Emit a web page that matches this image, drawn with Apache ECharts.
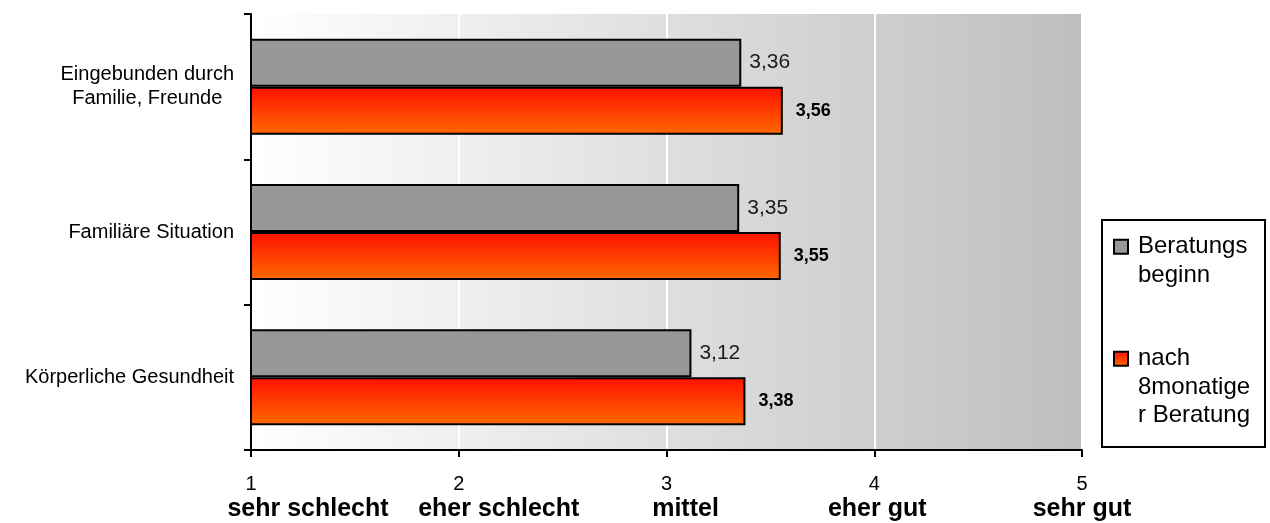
<!DOCTYPE html>
<html>
<head>
<meta charset="utf-8">
<script src="https://cdn.jsdelivr.net/npm/echarts@6/dist/echarts.min.js"></script>
<style>
  html, body { margin: 0; padding: 0; background: #fff; }
  #chart { width: 1270px; height: 523px; }
</style>
</head>
<body>
<div id="chart"></div>
<script>
// Rating categories (bottom to top on the category axis)
const categories = ['Körperliche Gesundheit', 'Familiäre Situation', 'Eingebunden durch\nFamilie, Freunde'];
const seriesNames = ['Beratungs\nbeginn', 'nach\n8monatige\nr Beratung'];
const beginValues = [3.12, 3.35, 3.36];
const afterValues = [3.38, 3.55, 3.56];
const scaleLabels = ['sehr schlecht', 'eher schlecht', 'mittel', 'eher gut', 'sehr gut'];

// horizontal nudge of each verbal scale label (px, to the right of its tick)
const scaleLabelShift = [57, 40, 19, 3, 0];

const FONT = 'Liberation Sans, Arial, sans-serif';
const fmt = v => v.toFixed(2).replace('.', ',');

const scaleRich = {};
scaleLabelShift.forEach((s, i) => {
  scaleRich['s' + i] = {
    fontSize: 25, fontWeight: 'bold', lineHeight: 28, color: '#000',
    fontFamily: FONT, padding: [0, 0, 0, s * 2]
  };
});

const redGradient = new echarts.graphic.LinearGradient(0, 0, 0, 1, [
  { offset: 0, color: '#ff1000' },
  { offset: 1, color: '#ff6a00' }
]);

const chart = echarts.init(document.getElementById('chart'), null, { renderer: 'canvas' });
chart.setOption({
  animation: false,
  textStyle: { fontFamily: FONT },
  grid: {
    left: 251, right: 188, top: 14, bottom: 73,
    show: true, borderWidth: 0,
    backgroundColor: new echarts.graphic.LinearGradient(0, 0, 1, 0, [
      { offset: 0, color: '#ffffff' },
      { offset: 1, color: '#bebebe' }
    ]),
    outerBoundsMode: 'none'
  },
  xAxis: [
    {
      // numeric rating scale
      type: 'value', min: 1, max: 5, interval: 1,
      axisLine: { show: true, lineStyle: { color: '#000', width: 2 } },
      axisTick: { show: true, length: 7, lineStyle: { color: '#000', width: 2 } },
      splitLine: { show: true, lineStyle: { color: '#ffffff', width: 2 } },
      axisLabel: { margin: 22, fontSize: 20, lineHeight: 24, color: '#000' }
    },
    {
      // verbal meaning of each rating step
      type: 'category', data: scaleLabels, boundaryGap: false, position: 'bottom',
      axisLine: { show: false }, axisTick: { show: false }, splitLine: { show: false },
      axisLabel: {
        interval: 0, margin: 45,
        formatter: (v, i) => '{s' + i + '|' + v + '}',
        rich: scaleRich
      }
    }
  ],
  yAxis: {
    type: 'category', data: categories,
    axisLine: { show: true, lineStyle: { color: '#000', width: 2 } },
    axisTick: { show: true, length: 7, lineStyle: { color: '#000', width: 2 } },
    splitLine: { show: false },
    axisLabel: {
      margin: 17, align: 'right',
      formatter: v => v.split('\n').map(l => '{c|' + l + '}').join('\n'),
      rich: { c: { align: 'center', fontSize: 20, lineHeight: 24, color: '#000', fontFamily: FONT } }
    }
  },
  legend: {
    orient: 'vertical', left: 1113, top: 204, padding: 0, itemGap: -2,
    itemWidth: 14, itemHeight: 14, icon: 'rect', selectedMode: false,
    data: seriesNames,
    formatter: name => '\n'.repeat(name.split('\n').length - 1) + name,
    textStyle: { fontSize: 24, lineHeight: 28.5, color: '#000', padding: [0, 0, 0, 5] }
  },
  graphic: [{
    type: 'rect', z: 0,
    shape: { x: 1102, y: 220, width: 163, height: 227 },
    style: { fill: '#fff', stroke: '#000', lineWidth: 2 }
  }],
  series: [
    {
      name: seriesNames[0], type: 'bar', data: beginValues,
      barWidth: 48, barGap: '0%',
      itemStyle: { color: '#979797', borderColor: '#000', borderWidth: 2 },
      label: {
        show: true, position: 'right', distance: 8,
        fontSize: 21, color: '#1a1a1a',
        formatter: p => fmt(p.value)
      }
    },
    {
      name: seriesNames[1], type: 'bar', data: afterValues,
      barWidth: 48, barGap: '0%',
      itemStyle: { color: redGradient, borderColor: '#000', borderWidth: 2 },
      label: {
        show: true, position: 'right', distance: 13,
        fontSize: 18, fontWeight: 'bold', color: '#000',
        formatter: p => fmt(p.value)
      }
    }
  ]
});
</script>
</body>
</html>
